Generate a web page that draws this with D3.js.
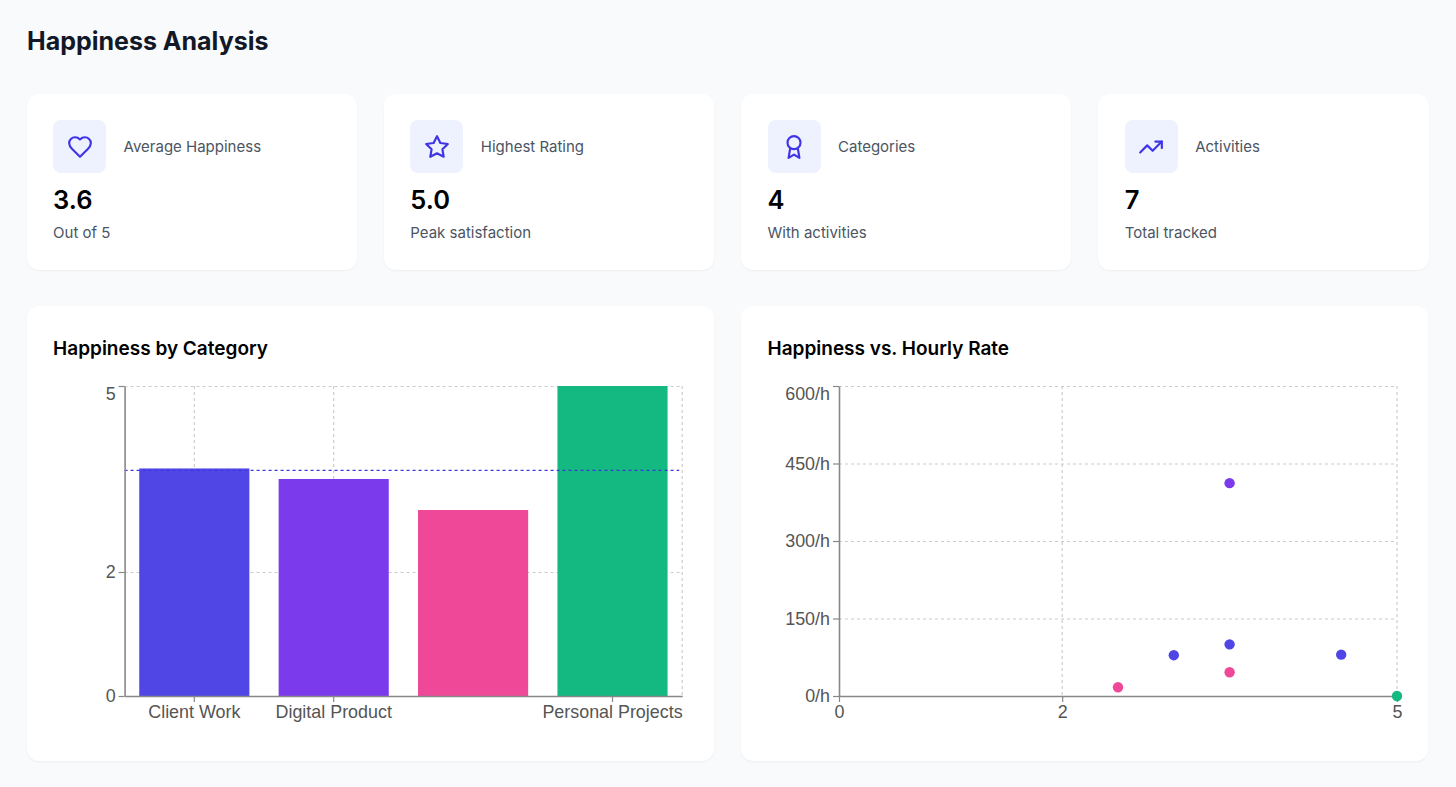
<!DOCTYPE html>
<html><head><meta charset="utf-8">
<script src="https://cdnjs.cloudflare.com/ajax/libs/d3/7.8.5/d3.min.js"></script>
<style>
html,body{margin:0;padding:0;background:#f9fafb;width:1456px;height:787px;overflow:hidden;font-family:Inter,"Noto Sans",sans-serif;}
.card{position:absolute;background:#fff;border-radius:12px;box-shadow:0 1px 2px rgba(0,0,0,.05);}
.ico{position:absolute;left:26.5px;top:26.5px;width:53px;height:53px;border-radius:8px;background:#eef2ff;}
.lab{position:absolute;left:97px;top:43.5px;font-size:15px;line-height:20px;color:#4b5563;white-space:nowrap}
.val{position:absolute;left:26.5px;top:90.5px;font-size:25.5px;line-height:32px;font-weight:600;color:#000}
.sub{position:absolute;left:26.5px;top:129.5px;font-size:15px;line-height:20px;color:#4b5563;white-space:nowrap}
h1{position:absolute;left:27px;top:24.5px;margin:0;font-size:25px;line-height:32px;font-weight:700;color:#111827;}
h2{position:absolute;left:26.5px;top:30.5px;margin:0;font-size:19px;line-height:24px;font-weight:600;color:#000;}
svg{position:absolute;left:0;top:0}
svg text{font-family:"Liberation Sans",Arial,sans-serif;font-size:17.9px;fill:#555}
</style></head><body>
<h1>Happiness Analysis</h1>
<div id="stats"></div>
<div class="card" style="left:26.6px;top:306px;width:687.4px;height:455px"><h2>Happiness by Category</h2></div>
<div class="card" style="left:741px;top:306px;width:687px;height:455px"><h2>Happiness vs. Hourly Rate</h2></div>
<svg id="chart" width="1456" height="787"></svg>
<script>
const statLabels=["Average Happiness","Highest Rating","Categories","Activities"];
const statValues=["3.6","5.0","4","7"];
const statSubs=["Out of 5","Peak satisfaction","With activities","Total tracked"];
const statIcons=[
 '<path d="M19 14c1.49-1.46 3-3.21 3-5.5A5.5 5.5 0 0 0 16.5 3c-1.76 0-3 .5-4.5 2-1.5-1.5-2.74-2-4.5-2A5.5 5.5 0 0 0 2 8.5c0 2.3 1.5 4.05 3 5.5l7 7Z"/>',
 '<polygon points="12 2 15.09 8.26 22 9.27 17 14.14 18.18 21.02 12 17.77 5.82 21.02 7 14.14 2 9.27 8.91 8.26 12 2"/>',
 '<circle cx="12" cy="8" r="6"/><path d="M15.477 12.89 17 22l-5-3-5 3 1.523-9.11"/>',
 '<polyline points="22 7 13.5 15.5 8.5 10.5 2 17"/><polyline points="16 7 22 7 22 13"/>'
];
const cardLefts=[26.6,383.8,741,1098.2];
const stats=d3.select("#stats");
statLabels.forEach((l,i)=>{
  const c=stats.append("div").attr("class","card").style("left",cardLefts[i]+"px").style("top","93.5px").style("width","330.4px").style("height","176.5px");
  const ic=c.append("div").attr("class","ico");
  ic.html('<svg style="left:13.5px;top:13.5px" width="26" height="26" viewBox="0 0 24 24" fill="none" stroke="#4035e6" stroke-width="2" stroke-linecap="round" stroke-linejoin="round">'+statIcons[i]+'</svg>');
  c.append("div").attr("class","lab").text(l);
  c.append("div").attr("class","val").text(statValues[i]);
  c.append("div").attr("class","sub").text(statSubs[i]);
});

const categories=["Client Work","Digital Product","Internal Tools","Personal Projects"];
const categoryLabels=["Client Work","Digital Product","","Personal Projects"];
const categoryHappiness=[3.67,3.5,3.0,5.0];
const categoryColors=["#4f46e5","#7c3aed","#ef4899","#14b981"];
const averageHappiness=3.64;
const barTicks=[0,2,5];

const rateX=[3.0,3.5,4.5,3.5,2.5,3.5,5.0];
const rateY=[79,100,80,412,17,46,0];
const rateCat=[0,0,0,1,2,2,3];
const rateXTicks=[0,2,5];
const rateYTicks=[0,150,300,450,600];

const svg=d3.select("#chart");
const gridCol="#ccc",axisCol="#888",tickTxt="#555";
const plotTop=386,plotBot=696;

function styleAxis(g){g.selectAll("path,line").attr("stroke",axisCol).attr("stroke-width",1.2);g.select("path").attr("stroke-width",1.6);g.selectAll("text").style("fill",tickTxt);}
function hGrid(g,x0,x1,scale,ticks){g.selectAll(null).data(ticks).join("line").attr("x1",x0).attr("x2",x1).attr("y1",d=>scale(d)+.5).attr("y2",d=>scale(d)+.5).attr("stroke",gridCol).attr("stroke-width",1.2).attr("stroke-dasharray","3 3");}
function vGrid(g,xs){g.selectAll(null).data(xs).join("line").attr("y1",plotTop).attr("y2",plotBot).attr("x1",d=>d).attr("x2",d=>d).attr("stroke",gridCol).attr("stroke-width",1.2).attr("stroke-dasharray","3 3");}

// bar chart
{
  const x0=124.6,x1=682.2;
  const x=d3.scaleBand().domain(categories).range([x0,x1]).paddingInner(0.21).paddingOuter(0.105);
  const y=d3.scaleLinear().domain([0,5]).range([plotBot,plotTop]);
  const g=svg.append("g");
  hGrid(g.append("g"),x0,x1,y,barTicks.slice(1));
  const gridCats=[categories[0],categories[1],categories[3]];
  vGrid(g.append("g"),gridCats.map(c=>x(c)+x.bandwidth()/2).concat([x1]));
  g.selectAll("rect").data(categories).join("rect")
    .attr("x",d=>x(d)).attr("width",x.bandwidth())
    .attr("y",(d,i)=>y(categoryHappiness[i])).attr("height",(d,i)=>plotBot-y(categoryHappiness[i]))
    .attr("fill",(d,i)=>categoryColors[i]);
  g.append("line").attr("x1",x0).attr("x2",x1-3).attr("y1",y(averageHappiness)).attr("y2",y(averageHappiness))
    .attr("stroke","#4035e6").attr("stroke-width",1.2).attr("stroke-dasharray","3 3");
  const ax=g.append("g").attr("transform",`translate(0,${plotBot})`).call(d3.axisBottom(x).tickSize(6).tickSizeOuter(0).tickPadding(3).tickFormat((d,i)=>categoryLabels[i]));
  styleAxis(ax);
  ax.selectAll(".tick").filter(d=>d===categories[2]).select("line").remove();
  const ay=g.append("g").attr("transform",`translate(${x0},0)`).call(d3.axisLeft(y).tickValues(barTicks).tickSize(6).tickSizeOuter(0).tickPadding(3).tickFormat(d3.format("d")));
  styleAxis(ay);
  ay.selectAll(".tick text").filter(d=>d===5).attr("dy",".76em");
}
// scatter
{
  const x0=839,x1=1397;
  const x=d3.scaleLinear().domain([0,5]).range([x0,x1]);
  const y=d3.scaleLinear().domain([0,600]).range([plotBot,plotTop]);
  const g=svg.append("g");
  hGrid(g.append("g"),x0,x1,y,rateYTicks.slice(1));
  vGrid(g.append("g"),rateXTicks.slice(1).map(x));
  const ax=g.append("g").attr("transform",`translate(0,${plotBot})`).call(d3.axisBottom(x).tickValues(rateXTicks).tickSize(6).tickSizeOuter(0).tickPadding(3).tickFormat(d3.format("d")));
  styleAxis(ax);
  const ay=g.append("g").attr("transform",`translate(${x0},0)`).call(d3.axisLeft(y).tickValues(rateYTicks).tickSize(6).tickSizeOuter(0).tickPadding(3).tickFormat(d=>d+"/h"));
  styleAxis(ay);
  ay.selectAll(".tick text").filter(d=>d===600).attr("dy",".76em");
  g.append("g").selectAll("circle").data(rateX).join("circle")
    .attr("cx",d=>x(d)).attr("cy",(d,i)=>y(rateY[i])).attr("r",5.2)
    .attr("fill",(d,i)=>categoryColors[rateCat[i]]);
}
</script></body></html>
